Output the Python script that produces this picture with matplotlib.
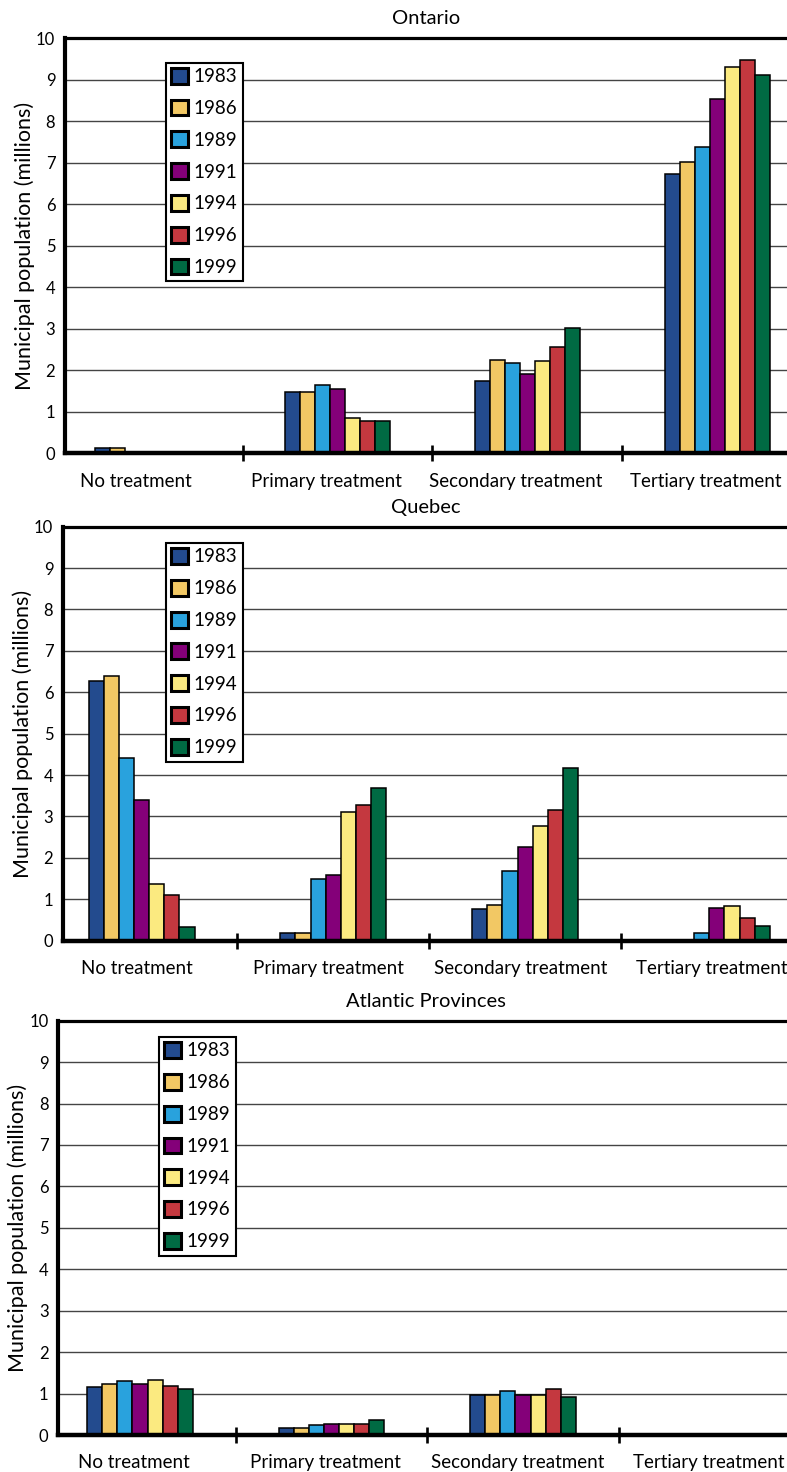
import matplotlib
matplotlib.use("Agg")
import matplotlib.pyplot as plt
from matplotlib.patches import Patch
import numpy as np

plt.rcParams['font.family'] = ['Lato', 'DejaVu Sans']

categories = ["No treatment", "Primary treatment", "Secondary treatment", "Tertiary treatment"]
years = ["1983", "1986", "1989", "1991", "1994", "1996", "1999"]
colors = ["#234B8E", "#F2C864", "#29A2DD", "#840079", "#FBEA80", "#C4383F", "#006A43"]

# values per category, one entry per year (millions)
ontario_no = [0.13, 0.13, 0, 0, 0, 0, 0]
ontario_primary = [1.47, 1.47, 1.65, 1.54, 0.84, 0.78, 0.78]
ontario_secondary = [1.74, 2.24, 2.18, 1.92, 2.22, 2.57, 3.02]
ontario_tertiary = [6.74, 7.02, 7.37, 8.53, 9.32, 9.48, 9.11]

quebec_no = [6.27, 6.39, 4.42, 3.41, 1.37, 1.10, 0.33]
quebec_primary = [0.18, 0.18, 1.50, 1.58, 3.12, 3.28, 3.70]
quebec_secondary = [0.76, 0.87, 1.69, 2.26, 2.76, 3.15, 4.18]
quebec_tertiary = [0, 0, 0.18, 0.79, 0.84, 0.54, 0.35]

atlantic_no = [1.17, 1.23, 1.30, 1.23, 1.33, 1.18, 1.10]
atlantic_primary = [0.18, 0.18, 0.23, 0.27, 0.27, 0.27, 0.35]
atlantic_secondary = [0.97, 0.97, 1.06, 0.97, 0.97, 1.12, 0.91]
atlantic_tertiary = [0, 0, 0, 0, 0, 0, 0]

yticks = list(range(0, 11))

panels = [
    dict(title="Ontario",
         data=[ontario_no, ontario_primary, ontario_secondary, ontario_tertiary],
         rect=[65/787, 1-453.3/1472, 1-65/787, 415/1472],
         xlim=(-0.436, 3.368), leg=(0.1395, 0.9414), lab_shift=-0.06),
    dict(title="Quebec",
         data=[quebec_no, quebec_primary, quebec_secondary, quebec_tertiary],
         rect=[63/787, 1-940.7/1472, 1-63/787, 414/1472],
         xlim=(-0.41, 3.366), leg=(0.1418, 0.961), lab_shift=-0.025),
    dict(title="Atlantic Provinces",
         data=[atlantic_no, atlantic_primary, atlantic_secondary, atlantic_tertiary],
         rect=[58.3/787, 1-1435/1472, 1-58.3/787, 414.3/1472],
         xlim=(-0.427, 3.379), leg=(0.1378, 0.961), lab_shift=-0.03),
]

fig = plt.figure(figsize=(7.87, 14.72), dpi=100)
bw = 0.079
x = np.arange(len(categories))

for p in panels:
    ax = fig.add_axes(p["rect"])
    vals = np.array(p["data"])  # shape (cat, year)
    for j, yr in enumerate(years):
        ax.bar(x + (j - 3) * bw, vals[:, j], width=bw, color=colors[j],
               edgecolor="black", linewidth=1.1, zorder=3)
    ax.set_xlim(*p["xlim"])
    ax.set_ylim(0, 10)
    ax.set_yticks(yticks)
    ax.set_yticklabels([str(v) for v in yticks], fontsize=12)
    ax.tick_params(axis='y', length=0, pad=7)
    ax.yaxis.grid(True, color="#444444", linewidth=1.0, zorder=0)
    ax.set_axisbelow(True)
    ax.set_xticks(x + p["lab_shift"])
    ax.set_xticklabels(categories, fontsize=13.5)
    ax.tick_params(axis='x', which='major', length=0, pad=14)
    ax.set_xticks([0.5, 1.5, 2.5], minor=True)
    ax.tick_params(axis='x', which='minor', direction='inout', length=12, width=1.9, color='black')
    ax.spines['right'].set_visible(False)
    ax.spines['left'].set_linewidth(3)
    ax.spines['top'].set_linewidth(2.3)
    ax.spines['bottom'].set_linewidth(3.2)
    for s in ax.spines.values():
        s.set_zorder(5)
    ax.set_title(p["title"], fontsize=14.5, pad=10, x=(426 - p["rect"][0]*787) / (p["rect"][2]*787))
    ax.set_ylabel("Municipal population (millions)", fontsize=15.5, labelpad=1)
    handles = [Patch(facecolor=c, edgecolor="black", linewidth=2.2, label=y) for c, y in zip(colors, years)]
    leg = ax.legend(handles=handles, loc="upper left", bbox_to_anchor=p["leg"],
                    fontsize=13.5, handlelength=0.92, handleheight=0.92, handletextpad=0.3,
                    labelspacing=0.77, borderpad=0.28, borderaxespad=0, fancybox=False,
                    framealpha=1, edgecolor="black")
    leg.get_frame().set_linewidth(1.5)
    leg.set_zorder(10)

fig.savefig("out.png", dpi=100)
